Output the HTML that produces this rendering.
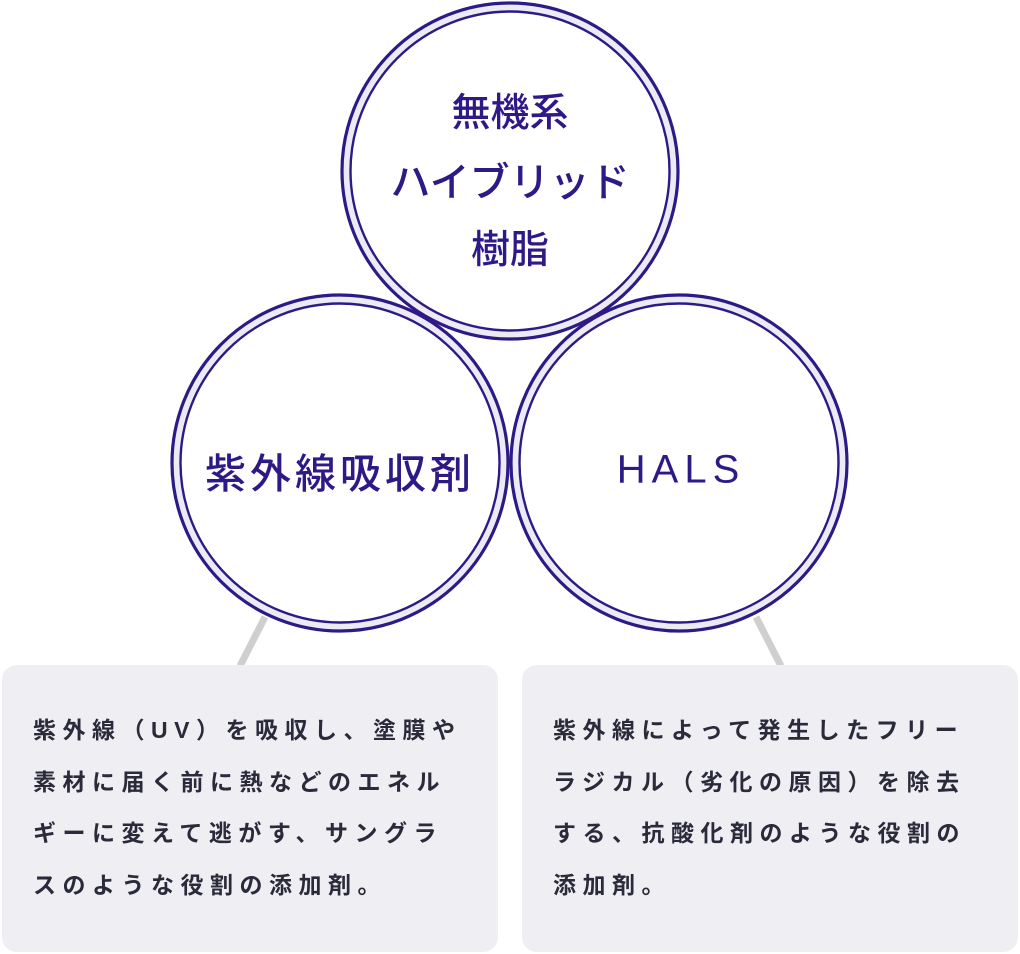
<!DOCTYPE html>
<html><head><meta charset="utf-8"><style>
html,body{margin:0;padding:0;background:#fff;}
body{width:1020px;height:954px;position:relative;overflow:hidden;font-family:"Liberation Sans","Noto Sans CJK JP",sans-serif;}
svg{position:absolute;left:0;top:0;}
.box{position:absolute;top:665px;width:496px;height:287px;background:#eeeef3;border-radius:15px;}
.bt{position:absolute;left:31px;top:40px;font-size:23px;font-weight:bold;color:#2a2a3a;letter-spacing:6.5px;line-height:51.5px;white-space:nowrap;}
.ct{position:absolute;color:#2e1a87;font-weight:500;text-align:center;white-space:nowrap;transform:translate(-50%,-50%);}
</style></head><body>
<svg width="1020" height="954">
<line x1="265" y1="617" x2="240" y2="666" stroke="#cfcfcf" stroke-width="7"/>
<line x1="756" y1="617" x2="781" y2="666" stroke="#cfcfcf" stroke-width="7"/>
<g fill="none">
<circle cx="510" cy="171" r="164" stroke="#ecebf4" stroke-width="8"/>
<circle cx="340" cy="463" r="164" stroke="#ecebf4" stroke-width="8"/>
<circle cx="679" cy="463" r="164" stroke="#ecebf4" stroke-width="8"/>
<g stroke="#2e1a87">
<circle cx="510" cy="171" r="168" stroke-width="3.2"/>
<circle cx="510" cy="171" r="159.5" stroke-width="2.4"/>
<circle cx="340" cy="463" r="168" stroke-width="3.2"/>
<circle cx="340" cy="463" r="159.5" stroke-width="2.4"/>
<circle cx="679" cy="463" r="168" stroke-width="3.2"/>
<circle cx="679" cy="463" r="159.5" stroke-width="2.4"/>
</g></g>
</svg>
<div class="ct" style="left:510px;top:110px;font-size:39px;">無機系</div>
<div class="ct" style="left:510px;top:179px;font-size:40px;">ハイブリッド</div>
<div class="ct" style="left:510px;top:247px;font-size:39px;">樹脂</div>
<div class="ct" style="left:340px;top:470px;font-size:41px;letter-spacing:4px;">紫外線吸収剤</div>
<div class="ct" style="left:681px;top:470px;font-size:40px;letter-spacing:6px;">HALS</div>
<div class="box" style="left:2px;"><div class="bt">紫外線（UV）を吸収し、塗膜や<br>素材に届く前に熱などのエネル<br>ギーに変えて逃がす、サングラ<br>スのような役割の添加剤。</div></div>
<div class="box" style="left:522px;"><div class="bt">紫外線によって発生したフリー<br>ラジカル（劣化の原因）を除去<br>する、抗酸化剤のような役割の<br>添加剤。</div></div>
</body></html>
